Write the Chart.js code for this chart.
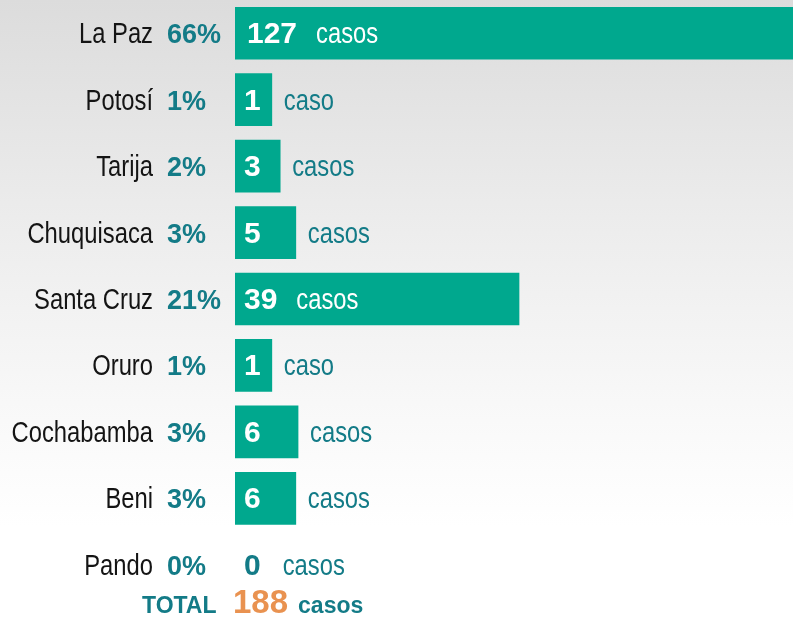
<!DOCTYPE html>
<html lang="es">
<head>
<meta charset="utf-8">
<script src="https://cdn.jsdelivr.net/npm/chart.js@4.4.1/dist/chart.umd.min.js"></script>
<style>
  html, body {
    margin: 0;
    padding: 0;
    width: 793px;
    height: 619px;
    overflow: hidden;
    background: linear-gradient(to bottom, #dcdcdc 0%, #ececec 35%, #f8f8f8 65%, #ffffff 85%);
  }
  #wrap {
    position: absolute;
    left: 0;
    top: 0;
    width: 793px;
    height: 619px;
  }
</style>
</head>
<body>
<div id="wrap"><canvas id="chart"></canvas></div>
<script>
// Datos
const departamentos = ['La Paz', 'Potosí', 'Tarija', 'Chuquisaca', 'Santa Cruz', 'Oruro', 'Cochabamba', 'Beni', 'Pando'];
const casos = [127, 1, 3, 5, 39, 1, 6, 6, 0];
const porcentajes = [66, 1, 2, 3, 21, 1, 3, 3, 0];
// el original no es proporcional: largo visible de cada barra (La Paz = 100)
const largoBarra = [100, 6.6, 8.1, 10.9, 50.9, 6.6, 11.3, 10.9, 0];
const totalCasos = 188;

const VERDE = '#00a88e';
const TEAL = '#137b87';
const NARANJA = '#e99250';
const TEXTO = '#141414';
const NARROW = 0.82;

// texto "angosto": Liberation Sans comprimido horizontalmente
function narrowText(ctx, text, x, y, align, size, color) {
  ctx.save();
  ctx.font = size + 'px "Liberation Sans", Arial, sans-serif';
  ctx.fillStyle = color;
  ctx.textBaseline = 'alphabetic';
  const w = ctx.measureText(text).width * NARROW;
  const left = align === 'right' ? x - w : x;
  ctx.translate(left, y);
  ctx.scale(NARROW, 1);
  ctx.textAlign = 'left';
  ctx.fillText(text, 0, 0);
  ctx.restore();
  return w;
}

function boldText(ctx, text, x, y, size, color) {
  ctx.save();
  ctx.font = 'bold ' + size + 'px "Liberation Sans", Arial, sans-serif';
  ctx.fillStyle = color;
  ctx.textBaseline = 'alphabetic';
  ctx.textAlign = 'left';
  ctx.fillText(text, x, y);
  const w = ctx.measureText(text).width;
  ctx.restore();
  return w;
}

const etiquetasPlugin = {
  id: 'etiquetas',
  afterDatasetsDraw(chart) {
    const ctx = chart.ctx;
    const xScale = chart.scales.x;
    const yScale = chart.scales.y;
    const area = chart.chartArea;

    departamentos.forEach((dep, i) => {
      const yc = yScale.getPixelForValue(i);
      const base = yc + 10;
      const barEnd = xScale.getPixelForValue(largoBarra[i]);
      const tieneBarra = largoBarra[i] > 0;

      narrowText(ctx, dep, area.left - 82, base, 'right', 29, TEXTO);
      boldText(ctx, porcentajes[i] + '%', area.left - 68, base, 27, TEAL);

      const numX = area.left + (i === 0 ? 12 : 9);
      const numW = boldText(ctx, String(casos[i]), numX, base, 30, tieneBarra ? '#ffffff' : TEAL);
      const numEnd = numX + numW;

      const palabra = casos[i] === 1 ? 'caso' : 'casos';
      ctx.save();
      ctx.font = '29px "Liberation Sans", Arial, sans-serif';
      const palabraW = ctx.measureText(palabra).width * NARROW;
      ctx.restore();

      const dentro = tieneBarra && numEnd + 20 + palabraW + 10 < barEnd;
      if (dentro) {
        narrowText(ctx, palabra, numEnd + 19, base, 'left', 29, '#ffffff');
      } else {
        const px = Math.max(tieneBarra ? barEnd + 12 : 0, numEnd + 22);
        narrowText(ctx, palabra, px, base, 'left', 29, TEAL);
      }
    });

    // fila del total
    const yTot = 613;
    let x = 142;
    x += boldText(ctx, 'TOTAL', x, yTot, 23, TEAL) + 14;
    x = Math.max(x, 233);
    x += boldText(ctx, String(totalCasos), x, yTot, 33, NARANJA) + 10;
    boldText(ctx, 'casos', x, yTot, 23, TEAL);
  },
};

new Chart(document.getElementById('chart'), {
  type: 'bar',
  data: {
    labels: departamentos,
    datasets: [
      {
        label: 'Casos',
        data: largoBarra.map((v) => (v > 0 ? v : null)),
        backgroundColor: VERDE,
        borderWidth: 0,
        barThickness: 52,
      },
    ],
  },
  options: {
    indexAxis: 'y',
    responsive: true,
    maintainAspectRatio: false,
    animation: false,
    layout: {
      padding: { left: 235, right: 0, top: 0, bottom: 21 },
    },
    plugins: {
      legend: { display: false },
      tooltip: { enabled: false },
    },
    scales: {
      x: {
        display: false,
        min: 0,
        max: 100,
      },
      y: {
        display: false,
      },
    },
  },
  plugins: [etiquetasPlugin],
});
</script>
</body>
</html>
